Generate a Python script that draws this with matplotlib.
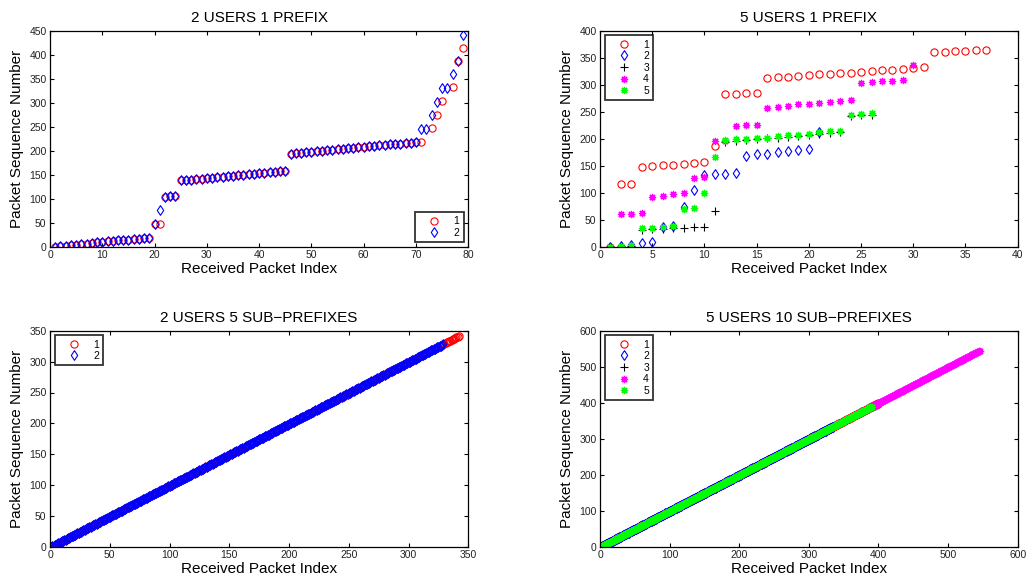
import numpy as np
import matplotlib
matplotlib.use("Agg")
import matplotlib.pyplot as plt

plt.rcParams['font.family'] = ['Liberation Sans', 'DejaVu Sans']

# ---------------- data ----------------
# Top-left: 2 users 1 prefix
tl_user1_x = list(range(1, 72)) + [73, 74, 75, 77, 78, 79]
tl_user1_y = [0, 1, 2, 3, 4, 5, 6, 7, 9, 10, 11, 12, 13, 14, 15, 16, 17, 18, 19,
              48, 48, 104, 105, 106,
              138, 139, 140, 141, 142, 143, 144, 145, 146, 147, 148, 149, 150,
              151, 152, 153, 154, 155, 156, 157, 158,
              194, 195, 196, 197, 198, 199, 200, 201, 202, 203, 204, 205, 206,
              207, 208, 209, 210, 211, 212, 213, 214, 215, 216, 217, 218,
              218, 247, 275, 303, 332, 387, 415]
tl_user2_x = list(range(1, 80))
tl_user2_y = [0, 1, 2, 3, 4, 5, 6, 7, 9, 10, 11, 12, 13, 14, 15, 16, 17, 18, 19,
              48, 76, 104, 105, 106,
              138, 139, 140, 141, 142, 143, 144, 145, 146, 147, 148, 149, 150,
              151, 152, 153, 154, 155, 156, 157, 158,
              194, 195, 196, 197, 198, 199, 200, 201, 202, 203, 204, 205, 206,
              207, 208, 209, 210, 211, 212, 213, 214, 215, 216, 217, 218,
              245, 246, 274, 302, 330, 331, 359, 387, 442]

# Top-right: 5 users 1 prefix
tr_user1_y = [0, 116, 117, 148, 149, 151, 152, 154, 155, 157, 186, 282, 283, 284,
              285, 313, 314, 315, 317, 318, 319, 320, 321, 322, 324, 326, 327,
              328, 329, 331, 332, 360, 361, 362, 363, 364, 365]
tr_user2_y = [0, 2, 4, 7, 9, 37, 39, 74, 105, 133, 134, 135, 136, 168, 171, 172,
              176, 178, 179, 181, 213]
tr_user3_y = [0, 1, 2, 31, 32, 33, 34, 35, 36, 37, 67, 193, 195, 197, 199, 201,
              202, 204, 205, 207, 209, 211, 212, 242, 243, 243]
tr_user4_y = [0, 61, 61, 62, 92, 94, 97, 99, 127, 129, 195, 196, 224, 225, 226,
              256, 259, 260, 264, 265, 266, 268, 269, 272, 303, 305, 306, 307,
              308, 336]
tr_user5_y = [0, 2, 3, 34, 35, 36, 38, 70, 71, 100, 167, 198, 199, 200, 201, 202,
              205, 206, 207, 209, 213, 214, 215, 244, 246, 248]

# Bottom plots: packets received in order -> runs (first index, last index, first sequence)
bl_user1_run = (1, 342, 0)
bl_user2_run = (1, 329, 0)
br_user1_run = (1, 400, 0)
br_user2_run = (1, 335, 0)
br_user3_run = (1, 370, 0)
br_user4_run = (1, 546, 0)
br_user5_run = (1, 390, 0)

user_labels = ['1', '2', '3', '4', '5']
titles = ['2 USERS 1 PREFIX', '5 USERS 1 PREFIX',
          '2 USERS 5 SUB\u2212PREFIXES', '5 USERS 10 SUB\u2212PREFIXES']


def expand(run):
    first, last, seq0 = run
    idx = np.arange(first, last + 1)
    return idx, seq0 + (idx - first)


ASTER = (8, 2, 0)
DIAMOND = [(0, 1), (0.66, 0), (0, -1), (-0.66, 0), (0, 1)]
styles = [
    dict(marker='o', color='#ff0000', mfc='none', ms=5.2, mew=0.8),
    dict(marker=DIAMOND, color='#0000ff', mfc='none', ms=7.0, mew=0.8),
    dict(marker='+', color='#000000', ms=5.5, mew=0.8),
    dict(marker=ASTER, color='#ff00ff', ms=5.2, mew=0.9),
    dict(marker=ASTER, color='#00ff00', ms=5.2, mew=0.9),
]

W, H = 1028, 583
fig = plt.figure(figsize=(W / 100, H / 100), dpi=100)


def make_ax(x0, y0, x1, y1):
    return fig.add_axes([x0 / W, 1 - y1 / H, (x1 - x0) / W, (y1 - y0) / H])


axes = [make_ax(50, 30.7, 468.3, 246.7), make_ax(600, 30.7, 1017.7, 246.7),
        make_ax(50, 330.7, 468.3, 547.0), make_ax(600, 330.7, 1017.7, 547.0)]

# Top-left
ax = axes[0]
ax.plot(tl_user1_x, tl_user1_y, ls='none', label=user_labels[0], **styles[0])
ax.plot(tl_user2_x, tl_user2_y, ls='none', label=user_labels[1], **styles[1])
ax.set_xlim(0, 80); ax.set_ylim(0, 450)
ax.set_xticks(range(0, 81, 10)); ax.set_yticks(range(0, 451, 50))

# Top-right
ax = axes[1]
for k, ys in enumerate([tr_user1_y, tr_user2_y, tr_user3_y, tr_user4_y, tr_user5_y]):
    ax.plot(range(1, len(ys) + 1), ys, ls='none', label=user_labels[k], **styles[k])
ax.set_xlim(0, 40); ax.set_ylim(0, 400)
ax.set_xticks(range(0, 41, 5)); ax.set_yticks(range(0, 401, 50))

# Bottom-left
ax = axes[2]
for k, run in enumerate([bl_user1_run, bl_user2_run]):
    xs, ys = expand(run)
    ax.plot(xs, ys, ls='none', label=user_labels[k], **styles[k])
ax.set_xlim(0, 350); ax.set_ylim(0, 350)
ax.set_xticks(range(0, 351, 50)); ax.set_yticks(range(0, 351, 50))

# Bottom-right
ax = axes[3]
for k, run in enumerate([br_user1_run, br_user2_run, br_user3_run, br_user4_run, br_user5_run]):
    xs, ys = expand(run)
    ax.plot(xs, ys, ls='none', label=user_labels[k], **styles[k])
ax.set_xlim(0, 600); ax.set_ylim(0, 600)
ax.set_xticks(range(0, 601, 100)); ax.set_yticks(range(0, 601, 100))

legend_locs = ['lower right', 'upper left', 'upper left', 'upper left']
for ax, title, loc in zip(axes, titles, legend_locs):
    ax.set_title(title, fontsize=11, pad=6)
    ax.set_xlabel('Received Packet Index', fontsize=11, labelpad=1)
    ax.set_ylabel('Packet Sequence Number', fontsize=11, labelpad=4)
    ax.tick_params(direction='in', top=True, right=True, length=3, width=0.8,
                   labelsize=7.5, pad=2.5, labelcolor='#222222')
    for sp in ax.spines.values():
        sp.set_linewidth(0.9)
    leg = ax.legend(loc=loc, fontsize=7.5, frameon=True, fancybox=False,
                    borderpad=0.4, handlelength=2.9, handletextpad=0.4,
                    labelspacing=0.15, borderaxespad=0.45, numpoints=1)
    leg.get_frame().set_edgecolor('black')
    leg.get_frame().set_linewidth(1.3)

fig.savefig('out.png', dpi=100)
